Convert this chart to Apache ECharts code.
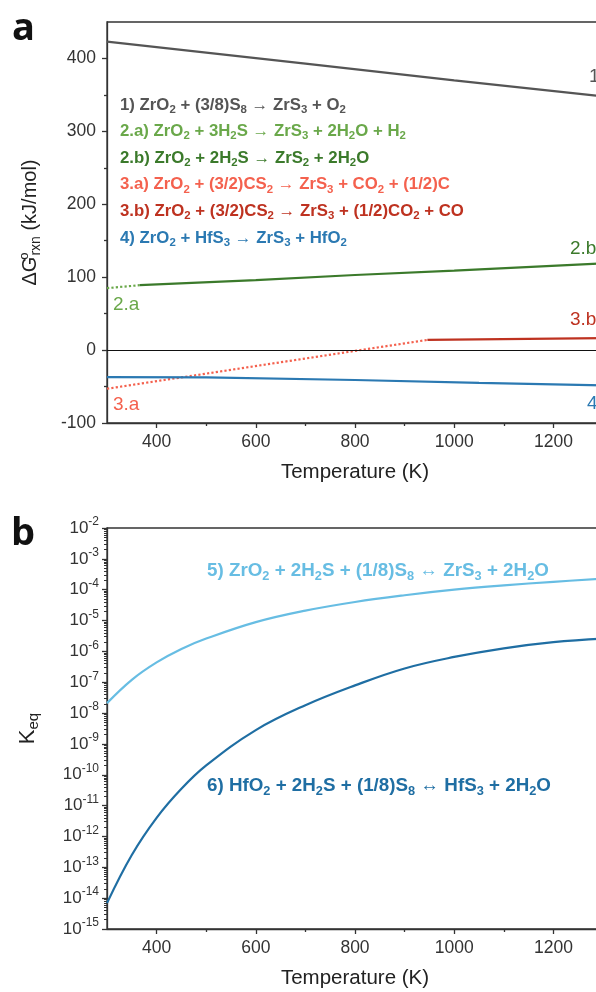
<!DOCTYPE html>
<html>
<head>
<meta charset="utf-8">
<title>ZrS3 / HfS3 thermodynamics</title>
<script src="https://cdn.jsdelivr.net/npm/echarts@6/dist/echarts.min.js"></script>
<style>
  html, body { margin: 0; padding: 0; background: #fff; overflow: hidden; }
  #chart { width: 620px; height: 992px; }
</style>
</head>
<body>
<div id="chart"></div>
<script>
// panel a: dG of reaction (kJ/mol) vs T (K)
const rxn1 = [[300, 423], [700, 393], [1000, 370], [1300, 348]];
const rxn2a = [[300, 85], [366, 89]];
const rxn2b = [[366, 89], [600, 96], [800, 103], [1000, 109], [1300, 119]];
const rxn3a = [[300, -53], [946, 14]];
const rxn3b = [[946, 14], [1300, 16.5]];
const rxn4 = [[300, -37], [500, -37.5], [800, -41], [1050, -45], [1300, -48.5]];

// panel b: Keq vs T
const tempsB = [300, 350, 400, 450, 500, 600, 700, 800, 900, 1000, 1100, 1200, 1300];
const keqZr = [2.1e-8, 1.2e-7, 4.4e-7, 1.2e-6, 2.6e-6, 8.9e-6, 2.1e-5, 4.0e-5, 6.6e-5, 1.0e-4, 1.38e-4, 1.8e-4, 2.3e-4];
const keqHf = [6.9e-15, 2.5e-13, 4.0e-12, 3.5e-11, 2.0e-10, 2.8e-9, 1.8e-8, 7.9e-8, 2.8e-7, 6.6e-7, 1.26e-6, 2.0e-6, 2.6e-6];

// ticks
const tempTicks = [400, 600, 800, 1000, 1200];
const tempMinor = [500, 700, 900, 1100, 1300];
const dgTicks = [-100, 0, 100, 200, 300, 400];
const dgMinor = [-50, 50, 150, 250, 350];
const keqExps = [-15, -14, -13, -12, -11, -10, -9, -8, -7, -6, -5, -4, -3, -2];

const FONT = "'Liberation Sans', Arial, sans-serif";
const AXIS = '#333';

const C = {
  gray: '#555555',
  g1: '#6aa84a',
  g2: '#3b7a2b',
  r1: '#f4614e',
  r2: '#be3220',
  blue: '#2b79b2',
  lb: '#67bde3',
  db: '#1f6ea3'
};

var chart = echarts.init(document.getElementById('chart'));

// "ZrO_2" -> rich text with subscript
function sub(str, key) {
  return str.split(/_(\d)/).map(function (p, i) {
    if (i % 2) return '{' + key + 's|' + p + '}';
    return p ? '{' + key + '|' + p + '}' : '';
  }).join('');
}

function richFor(size) {
  var r = {};
  Object.keys(C).forEach(function (k) {
    r[k] = { fill: C[k], fontSize: size, fontWeight: 'bold', fontFamily: FONT };
    r[k + 's'] = { fill: C[k], fontSize: size * 0.68, fontWeight: 'bold', fontFamily: FONT, padding: [size * 0.55, 0, 0, 0] };
  });
  return r;
}

const eqsA = [
  ['gray', '1) ZrO_2 + (3/8)S_8 \u2192 ZrS_3 + O_2'],
  ['g1', '2.a) ZrO_2 + 3H_2S \u2192 ZrS_3 + 2H_2O + H_2'],
  ['g2', '2.b) ZrO_2 + 2H_2S \u2192 ZrS_2 + 2H_2O'],
  ['r1', '3.a) ZrO_2 + (3/2)CS_2 \u2192 ZrS_3 + CO_2 + (1/2)C'],
  ['r2', '3.b) ZrO_2 + (3/2)CS_2 \u2192 ZrS_3 + (1/2)CO_2 + CO'],
  ['blue', '4) ZrO_2 + HfS_3 \u2192 ZrS_3 + HfO_2']
];
const eqsB = [
  ['lb', '5) ZrO_2 + 2H_2S + (1/8)S_8 \u2194 ZrS_3 + 2H_2O', 570],
  ['db', '6) HfO_2 + 2H_2S + (1/8)S_8 \u2194 HfS_3 + 2H_2O', 785]
];

var graphics = [
  { type: 'text', x: 12, y: 29, style: { text: 'a', font: "bold 38px 'Open Sans', sans-serif", fill: '#111', verticalAlign: 'middle' } },
  { type: 'text', x: 11, y: 534, style: { text: 'b', font: "bold 38px 'Open Sans', sans-serif", fill: '#111', verticalAlign: 'middle' } }
];
eqsA.forEach(function (e, i) {
  graphics.push({ type: 'text', x: 120, y: 105 + 26.6 * i, style: { text: sub(e[1], e[0]), rich: richFor(16.8), verticalAlign: 'middle' } });
});
eqsB.forEach(function (e) {
  graphics.push({ type: 'text', x: 207, y: e[2] + 1, style: { text: sub(e[1], e[0]), rich: richFor(18.8), verticalAlign: 'middle' } });
});
// curve tags
[['1', C.gray, 589, 77], ['2.b', C.g2, 570, 249], ['2.a', C.g1, 113, 305], ['3.b', C.r2, 570, 320], ['3.a', C.r1, 113, 405], ['4', C.blue, 587, 404]]
  .forEach(function (t) {
    graphics.push({ type: 'text', x: t[2], y: t[3], style: { text: t[0], fill: t[1], font: '19px ' + FONT, verticalAlign: 'middle' } });
  });

function plain(v) { return String(v); }

function xMajor(grid) {
  return {
    type: 'value', gridIndex: grid, min: 300, max: 1300, position: 'bottom',
    name: 'Temperature (K)', nameLocation: 'middle', nameGap: 39,
    nameTextStyle: { fontSize: 20.5, color: '#222', fontFamily: FONT },
    axisLine: { onZero: false, lineStyle: { color: AXIS, width: 1.3 } },
    axisTick: { customValues: tempTicks, length: 5, lineStyle: { color: AXIS, width: 1.3 } },
    axisLabel: { customValues: tempTicks, formatter: plain, margin: 10, fontSize: 17.5, color: '#333', fontFamily: FONT },
    splitLine: { show: false }
  };
}
function xMinor(grid) {
  return {
    type: 'value', gridIndex: grid, min: 300, max: 1300, position: 'bottom',
    axisLine: { show: false, onZero: false },
    axisTick: { customValues: tempMinor, length: 3, lineStyle: { color: AXIS, width: 1.3 } },
    axisLabel: { show: false },
    splitLine: { show: false }
  };
}

const axisRich = {
  b: { fontSize: 17, color: '#333', fontFamily: FONT },
  s: { fontSize: 12, color: '#333', fontFamily: FONT, padding: [0, 0, 12, 0] }
};

function line(name, data, color, type, xi, yi, smooth) {
  return {
    name: name, type: 'line', data: data, xAxisIndex: xi, yAxisIndex: yi,
    showSymbol: false, smooth: smooth || false, silent: true, animation: false,
    lineStyle: { color: color, width: 2.2, type: type }
  };
}

var zeroLine = line('4', rxn4, C.blue, 'solid', 0, 0);
zeroLine.markLine = {
  silent: true, symbol: 'none', label: { show: false },
  lineStyle: { color: '#111', width: 1, type: 'solid' },
  data: [{ yAxis: 0 }]
};

var keqMajor = keqExps.map(function (e) { return Math.pow(10, e); });
var keqMinor = [].concat.apply([], keqExps.slice(0, -1).map(function (e) {
  return [2, 3, 4, 5, 6, 7, 8, 9].map(function (m) { return m * Math.pow(10, e); });
}));

chart.setOption({
  backgroundColor: '#fff',
  animation: false,
  textStyle: { fontFamily: FONT },
  grid: [
    { left: 107, right: 17, top: 22, height: 401, show: true, borderColor: AXIS, borderWidth: 1.3 },
    { left: 107, right: 17, top: 528, height: 401, show: true, borderColor: AXIS, borderWidth: 1.3 }
  ],
  xAxis: [xMajor(0), xMinor(0), xMajor(1), xMinor(1)],
  yAxis: [
    {
      type: 'value', gridIndex: 0, min: -100, max: 450, position: 'left',
      name: '{n|\u0394G}{sp|o}{sb|rxn}{n| (kJ/mol)}', nameLocation: 'middle', nameGap: 64,
      nameTextStyle: {
        rich: {
          n: { fontSize: 20, color: '#222', fontFamily: FONT },
          sp: { fontSize: 13, color: '#222', fontFamily: FONT, padding: [0, 0, 12, 0], width: 1 },
          sb: { fontSize: 14, color: '#222', fontFamily: FONT, padding: [11, 0, 0, 0] }
        }
      },
      axisLine: { onZero: false, lineStyle: { color: AXIS, width: 1.3 } },
      axisTick: { customValues: dgTicks, length: 5, lineStyle: { color: AXIS, width: 1.3 } },
      axisLabel: { customValues: dgTicks, formatter: plain, margin: 11, fontSize: 17.5, color: '#333', fontFamily: FONT },
      splitLine: { show: false }
    },
    {
      type: 'value', gridIndex: 0, min: -100, max: 450, position: 'left',
      axisLine: { show: false, onZero: false },
      axisTick: { customValues: dgMinor, length: 3, lineStyle: { color: AXIS, width: 1.3 } },
      axisLabel: { show: false },
      splitLine: { show: false }
    },
    {
      type: 'log', logBase: 10, gridIndex: 1, min: 1e-15, max: 1e-2, position: 'left',
      name: '{n|K}{sb|eq}', nameLocation: 'middle', nameGap: 66,
      nameTextStyle: {
        rich: {
          n: { fontSize: 22, color: '#222', fontFamily: FONT },
          sb: { fontSize: 15, color: '#222', fontFamily: FONT, padding: [12, 0, 0, 0] }
        }
      },
      axisLine: { onZero: false, lineStyle: { color: AXIS, width: 1.3 } },
      axisTick: { customValues: keqMajor, length: 5, lineStyle: { color: AXIS, width: 1.3 } },
      axisLabel: {
        customValues: keqMajor,
        margin: 8,
        formatter: function (v) {
          return '{b|10}{s|' + Math.round(Math.log10(v)) + '}';
        },
        rich: axisRich
      },
      splitLine: { show: false }
    },
    {
      type: 'log', logBase: 10, gridIndex: 1, min: 1e-15, max: 1e-2, position: 'left',
      axisLine: { show: false, onZero: false },
      axisTick: { customValues: keqMinor, length: 3, lineStyle: { color: AXIS, width: 1 } },
      axisLabel: { show: false },
      splitLine: { show: false }
    }
  ],
  graphic: graphics,
  series: [
    line('1', rxn1, C.gray, 'solid', 0, 0),
    line('2.a', rxn2a, C.g1, 'dotted', 0, 0),
    line('2.b', rxn2b, C.g2, 'solid', 0, 0),
    line('3.a', rxn3a, C.r1, 'dotted', 0, 0),
    line('3.b', rxn3b, C.r2, 'solid', 0, 0),
    zeroLine,
    line('5', tempsB.map(function (t, i) { return [t, keqZr[i]]; }), C.lb, 'solid', 2, 2, 0.4),
    line('6', tempsB.map(function (t, i) { return [t, keqHf[i]]; }), C.db, 'solid', 2, 2, 0.4)
  ]
});
</script>
</body>
</html>
